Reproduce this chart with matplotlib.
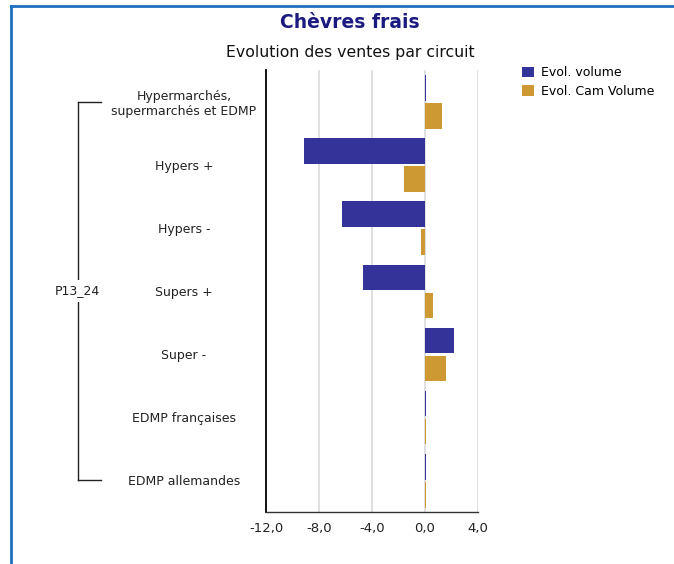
import matplotlib
matplotlib.use("Agg")
import matplotlib.pyplot as plt
from matplotlib.lines import Line2D
from matplotlib.patches import Patch
from matplotlib.transforms import blended_transform_factory

# ── Data ─────────────────────────────────────────────────────────────────────
categories = [
    "Hypermarchés,\nsupermarchés et EDMP",
    "Hypers +",
    "Hypers -",
    "Supers +",
    "Super -",
    "EDMP françaises",
    "EDMP allemandes",
]
group_label = "P13_24"
evol_volume = [0.1, -9.1, -6.3, -4.7, 2.2, 0.1, 0.1]
evol_cam_volume = [1.3, -1.6, -0.3, 0.6, 1.6, 0.08, 0.08]
xticks = [-12, -8, -4, 0, 4]

BLUE = "#333399"
GOLD = "#CC9933"
NAVY = "#1a1a80"

plt.rcParams["font.family"] = ["DejaVu Sans"]

fig = plt.figure(figsize=(6.74, 5.64), dpi=100)
ax = fig.add_axes([266 / 674, 52 / 564, 212 / 674, 442 / 564])

pos = list(range(len(categories)))
h = 0.405
ax.barh([p - 0.215 for p in pos], evol_volume, height=h, color=BLUE,
        label="Evol. volume", zorder=3)
ax.barh([p + 0.228 for p in pos], evol_cam_volume, height=h, color=GOLD,
        label="Evol. Cam Volume", zorder=3)

ax.set_xlim(-12, 4)
ax.set_ylim(len(categories) - 0.5, -0.5)
ax.set_xticks(xticks)
ax.set_xticklabels([f"{v:.1f}".replace(".", ",") for v in xticks], fontsize=9.5)
ax.tick_params(axis="x", length=0, pad=7, colors="#222222")
ax.set_yticks(pos)
ax.set_yticklabels(categories, fontsize=9, ha="center", color="#222222")
ax.tick_params(axis="y", length=0, pad=59)
ax.grid(axis="x", color="#d9d9d9", linewidth=1.2, zorder=0)

for side in ("top", "right"):
    ax.spines[side].set_visible(False)
ax.spines["left"].set_color("black")
ax.spines["left"].set_linewidth(1.3)
ax.spines["bottom"].set_color("#333333")
ax.spines["bottom"].set_linewidth(1.0)

# group bracket on the left
tr = blended_transform_factory(fig.transFigure, ax.transData)
xb, xe = 77.7 / 674, 100.7 / 674
for seg in ([xb, xb], [0, 6]), ([xb, xe], [0, 0]), ([xb, xe], [6, 6]):
    ax.add_line(Line2D(seg[0], seg[1], transform=tr, color="#222222",
                       linewidth=1.0, clip_on=False))
ax.text(xb, 3, group_label, transform=tr, ha="center", va="center",
        fontsize=9, color="#222222", clip_on=False,
        bbox=dict(facecolor="white", edgecolor="none", pad=3))

fig.text(350 / 674, 1 - 22 / 564, "Chèvres frais", ha="center", va="center",
         fontsize=13.5, fontweight="bold", color=NAVY)
fig.text(350 / 674, 1 - 52 / 564, "Evolution des ventes par circuit",
         ha="center", va="center", fontsize=11.3, color="#111111")

handles = [Patch(facecolor=BLUE), Patch(facecolor=GOLD)]
fig.legend(handles, ["Evol. volume", "Evol. Cam Volume"], loc="upper left",
           bbox_to_anchor=(511 / 674, 1 - 55 / 564), frameon=False,
           fontsize=9, handlelength=0.9, handleheight=0.9, handletextpad=0.6,
           labelspacing=0.45)

# blue frame
fig.add_artist(Line2D([11 / 674, 1], [1 - 6 / 564, 1 - 6 / 564],
                      color="#1f6fc0", linewidth=2))
fig.add_artist(Line2D([11 / 674, 11 / 674], [0, 1 - 6 / 564],
                      color="#1f6fc0", linewidth=2))

fig.savefig("out.png", dpi=100)
